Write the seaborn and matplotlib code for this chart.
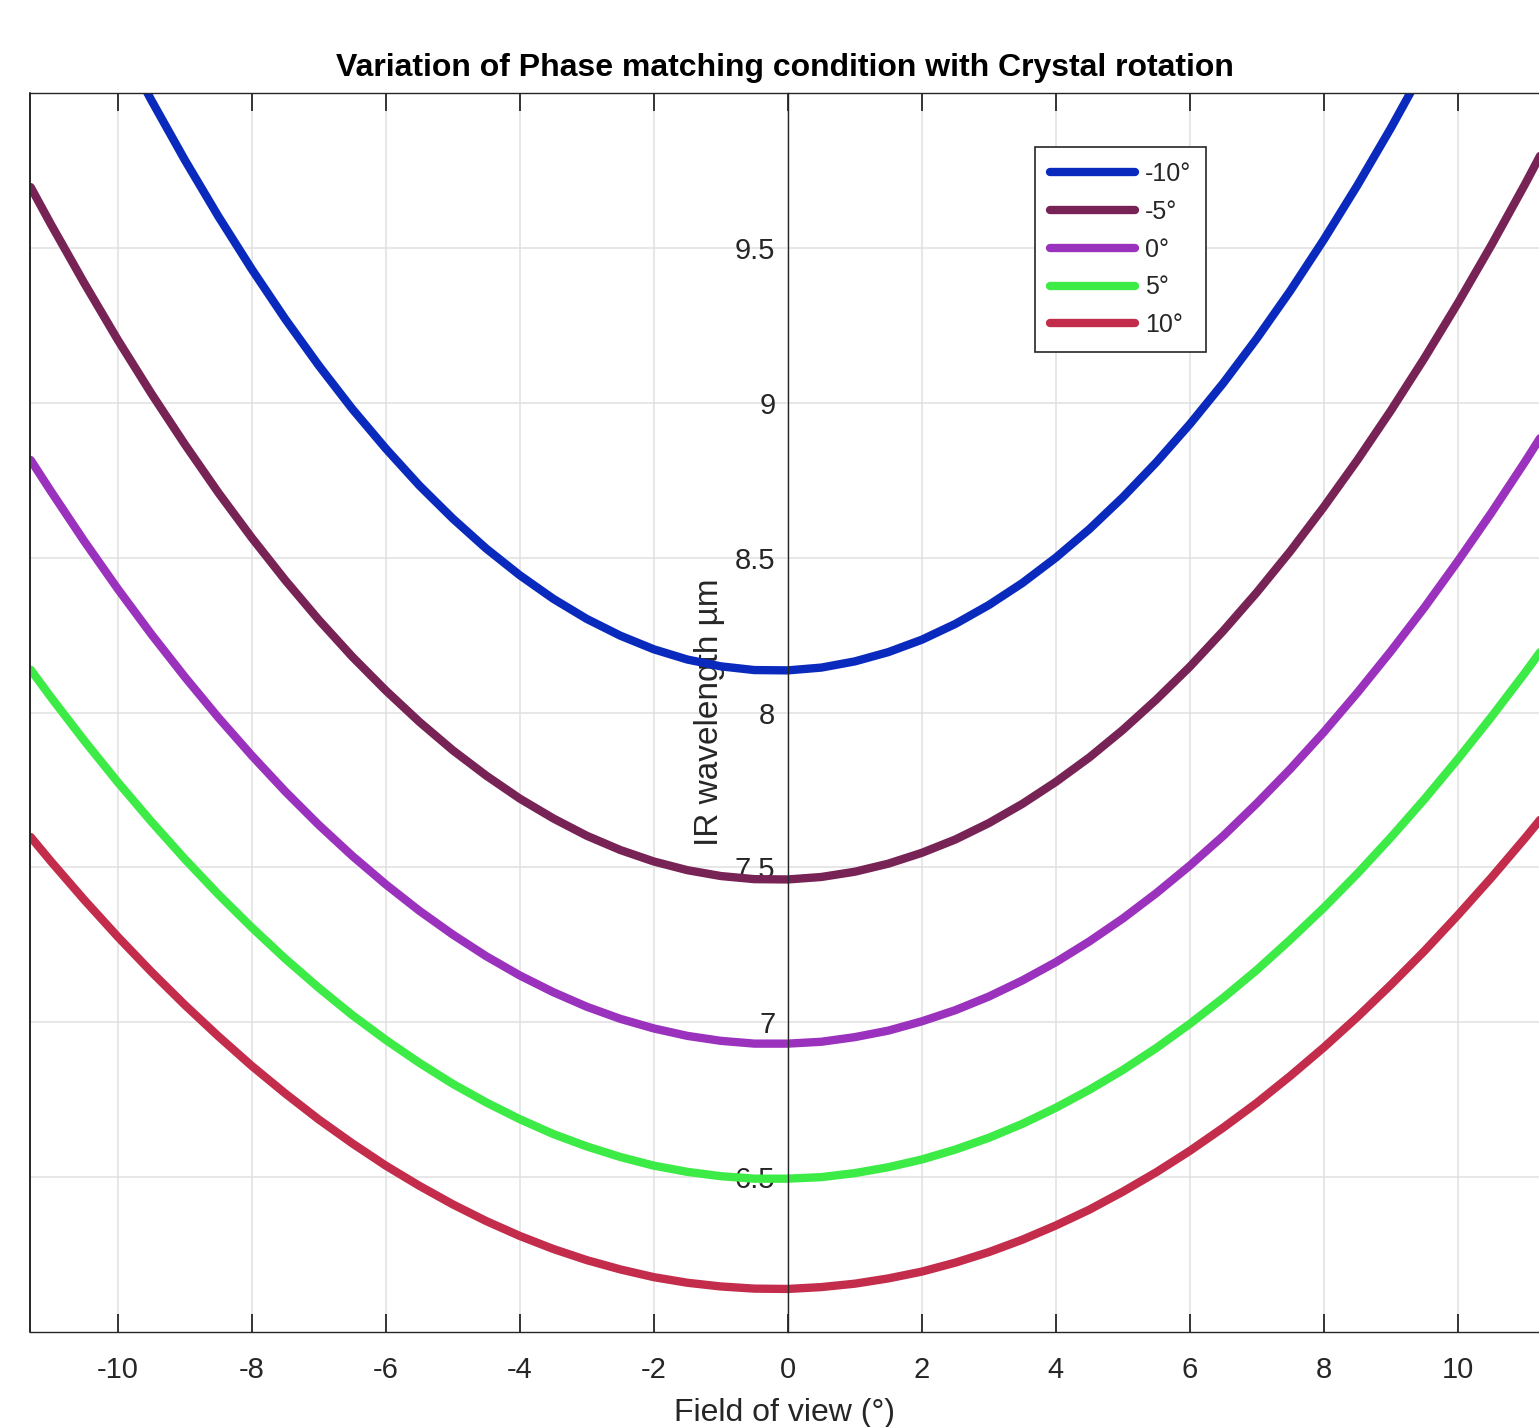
import pandas as pd
import matplotlib
matplotlib.use("Agg")
import matplotlib.pyplot as plt
from matplotlib.lines import Line2D
from matplotlib.ticker import FormatStrFormatter
import seaborn as sns

# valores (campo de visao em graus, comprimento de onda IR em um)
fov = [-11.3, -11, -10.5, -10, -9.5, -9, -8.5, -8, -7.5, -7, -6.5, -6, -5.5, -5,
       -4.5, -4, -3.5, -3, -2.5, -2, -1.5, -1, -0.5, 0, 0.5, 1, 1.5, 2, 2.5, 3,
       3.5, 4, 4.5, 5, 5.5, 6, 6.5, 7, 7.5, 8, 8.5, 9, 9.5, 10, 10.5, 11, 11.25]

wl_m10 = [10.759, 10.619, 10.395, 10.181, 9.977, 9.784, 9.602, 9.431, 9.270, 9.120,
          8.980, 8.852, 8.733, 8.626, 8.529, 8.443, 8.367, 8.302, 8.248, 8.204,
          8.171, 8.149, 8.137, 8.136, 8.145, 8.165, 8.195, 8.235, 8.286, 8.347,
          8.418, 8.500, 8.592, 8.695, 8.808, 8.931, 9.064, 9.208, 9.362, 9.527,
          9.702, 9.887, 10.083, 10.289, 10.505, 10.732, 10.849]
wl_m5 = [9.696, 9.577, 9.386, 9.203, 9.030, 8.866, 8.710, 8.564, 8.427, 8.299,
         8.180, 8.071, 7.970, 7.878, 7.796, 7.722, 7.658, 7.602, 7.556, 7.519,
         7.491, 7.472, 7.462, 7.461, 7.469, 7.486, 7.512, 7.547, 7.590, 7.643,
         7.705, 7.776, 7.855, 7.944, 8.042, 8.148, 8.264, 8.388, 8.521, 8.664,
         8.815, 8.975, 9.144, 9.322, 9.509, 9.705, 9.807]
wl_0 = [8.815, 8.715, 8.553, 8.399, 8.253, 8.115, 7.984, 7.861, 7.745, 7.637,
        7.537, 7.445, 7.360, 7.283, 7.213, 7.151, 7.097, 7.050, 7.011, 6.980,
        6.956, 6.940, 6.931, 6.931, 6.937, 6.952, 6.973, 7.003, 7.039, 7.083,
        7.135, 7.194, 7.261, 7.335, 7.417, 7.506, 7.602, 7.707, 7.818, 7.937,
        8.064, 8.198, 8.339, 8.489, 8.645, 8.809, 8.894]
wl_p5 = [8.138, 8.050, 7.909, 7.775, 7.648, 7.527, 7.413, 7.306, 7.205, 7.111,
         7.023, 6.943, 6.869, 6.801, 6.741, 6.687, 6.639, 6.599, 6.565, 6.537,
         6.517, 6.503, 6.495, 6.495, 6.500, 6.513, 6.532, 6.557, 6.589, 6.627,
         6.672, 6.724, 6.782, 6.846, 6.917, 6.995, 7.079, 7.169, 7.267, 7.370,
         7.480, 7.597, 7.720, 7.850, 7.986, 8.128, 8.202]
wl_p10 = [7.598, 7.520, 7.395, 7.276, 7.163, 7.056, 6.955, 6.859, 6.770, 6.686,
          6.609, 6.537, 6.472, 6.412, 6.358, 6.310, 6.268, 6.232, 6.202, 6.177,
          6.159, 6.147, 6.140, 6.139, 6.145, 6.156, 6.173, 6.195, 6.224, 6.258,
          6.298, 6.344, 6.395, 6.453, 6.516, 6.585, 6.660, 6.740, 6.827, 6.919,
          7.017, 7.121, 7.230, 7.346, 7.467, 7.594, 7.660]

rotations = ['-10°', '-5°', '0°', '5°', '10°']
series = [wl_m10, wl_m5, wl_0, wl_p5, wl_p10]
colors = ['#0a2abe', '#782355', '#9b32be', '#3ceb46', '#c32d4b']

x_ticks = [-10, -8, -6, -4, -2, 0, 2, 4, 6, 8, 10]
y_ticks = [6.5, 7, 7.5, 8, 8.5, 9, 9.5]

# montar dataframe longo para o seaborn
frames = []
for rot, vals in zip(rotations, series):
    frames.append(pd.DataFrame({'fov': fov, 'wl': vals, 'rot': rot}))
df = pd.concat(frames, ignore_index=True)

sns.set_style('white')
plt.rcParams['font.family'] = ['Liberation Sans', 'DejaVu Sans']
plt.rcParams['axes.unicode_minus'] = False

W, H = 1539, 1427
fig = plt.figure(figsize=(W / 100, H / 100), dpi=100)
ax = fig.add_axes([30 / W, 1 - 1332 / H, 1509 / W, (1332 - 93) / H])

sns.lineplot(data=df, x='fov', y='wl', hue='rot', hue_order=rotations,
             palette=colors, estimator=None, sort=True, linewidth=6,
             solid_joinstyle='round', ax=ax)

ax.set_xlim(-11.31, 11.21)
ax.set_ylim(6.0, 10.0)
ax.set_xticks(x_ticks)
ax.set_yticks(y_ticks)
ax.yaxis.set_major_formatter(FormatStrFormatter('%g'))

# eixo y na origem, como no matlab
ax.spines['left'].set_position(('data', 0))
ax.spines['right'].set_visible(False)
for s in ['left', 'top', 'bottom']:
    ax.spines[s].set_color('#262626')
    ax.spines[s].set_linewidth(1.0)
ax.add_line(Line2D([0, 0], [0, 1], transform=ax.transAxes, color='#262626',
                   linewidth=1.4, clip_on=False))

ax.grid(True, color='#e0e0e0', linewidth=1.1)
ax.set_axisbelow(True)
ax.tick_params(axis='x', which='both', direction='in', top=True, bottom=True,
               length=13, width=1.3, color='#262626', labelsize=21, pad=17,
               labelcolor='#262626')
ax.tick_params(axis='y', direction='in', length=11, width=1.3, color='#262626',
               labelsize=21, pad=9, labelcolor='#262626')

ax.set_title('Variation of Phase matching condition with Crystal rotation',
             fontsize=23, fontweight='bold', pad=12, color='black')
ax.set_xlabel('Field of view (°)', fontsize=23, color='#262626', labelpad=10)
ax.set_ylabel('IR wavelength µm', fontsize=24, color='#262626', labelpad=7)

leg = ax.legend(loc='upper left', bbox_to_anchor=(0.666, 0.9564), fontsize=18,
                frameon=True, fancybox=False, edgecolor='#262626', framealpha=1,
                handlelength=3.4, handletextpad=0.4, labelspacing=0.55,
                borderpad=0.6, borderaxespad=0)
leg.get_frame().set_linewidth(1.2)
for h in leg.get_lines():
    h.set_linewidth(6)

fig.savefig('out.png', dpi=100)
